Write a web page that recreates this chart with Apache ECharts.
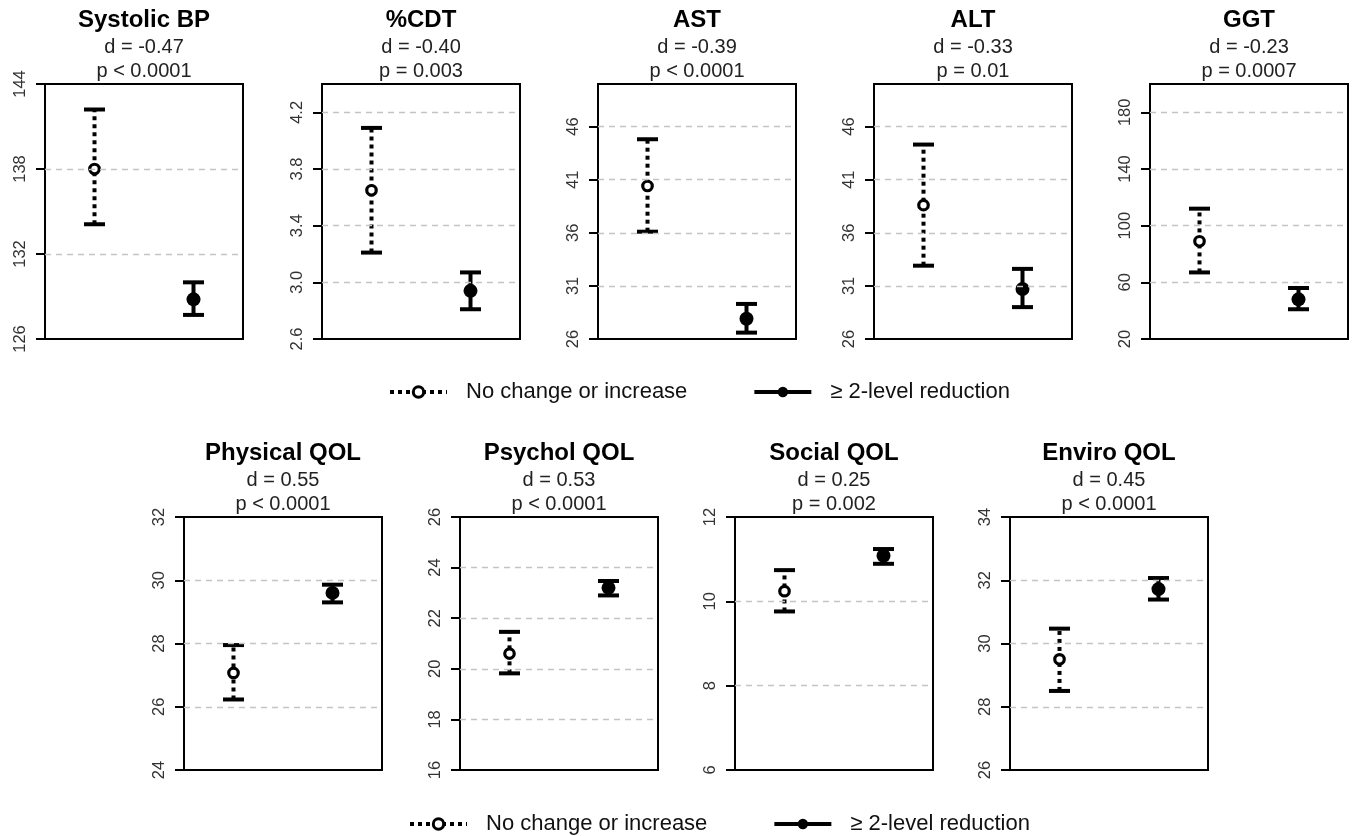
<!DOCTYPE html>
<html>
<head>
<meta charset="utf-8">
<script src="https://cdn.jsdelivr.net/npm/echarts@6/dist/echarts.min.js"></script>
<style>
html, body { margin: 0; padding: 0; background: #fff; }
#chart { width: 1355px; height: 836px; }
</style>
</head>
<body>
<div id="chart"></div>
<script>
// panel labels
var panelNames = ['Systolic BP', '%CDT', 'AST', 'ALT', 'GGT', 'Physical QOL', 'Psychol QOL', 'Social QOL', 'Enviro QOL'];
var dLabels = ['d = -0.47', 'd = -0.40', 'd = -0.39', 'd = -0.33', 'd = -0.23', 'd = 0.55', 'd = 0.53', 'd = 0.25', 'd = 0.45'];
var pLabels = ['p < 0.0001', 'p = 0.003', 'p < 0.0001', 'p = 0.01', 'p = 0.0007', 'p < 0.0001', 'p < 0.0001', 'p = 0.002', 'p < 0.0001'];
var groupNames = ['No change or increase', '\u2265 2-level reduction'];

// group means and interval ends, one value per panel
var noChangeMean = [138.0, 3.65, 40.4, 38.6, 89, 27.07, 20.6, 10.24, 29.5];
var noChangeLow = [134.1, 3.21, 36.1, 32.9, 67, 26.23, 19.82, 9.76, 28.5];
var noChangeHigh = [142.2, 4.09, 44.8, 44.3, 112, 27.95, 21.46, 10.74, 30.47];
var reductionMean = [128.8, 2.94, 27.9, 30.7, 48, 29.6, 23.2, 11.08, 31.72];
var reductionLow = [127.7, 2.81, 26.6, 29.0, 41, 29.3, 22.9, 10.89, 31.39];
var reductionHigh = [130.0, 3.07, 29.3, 32.6, 56, 29.86, 23.47, 11.24, 32.07];

// y axes
var yMin = [126, 2.6, 26, 26, 20, 24, 16, 6, 26];
var yMax = [144, 4.4, 50, 50, 200, 32, 26, 12, 34];
var yTicks = [
	[126, 132, 138, 144],
	[2.6, 3.0, 3.4, 3.8, 4.2],
	[26, 31, 36, 41, 46],
	[26, 31, 36, 41, 46],
	[20, 60, 100, 140, 180],
	[24, 26, 28, 30, 32],
	[16, 18, 20, 22, 24, 26],
	[6, 8, 10, 12],
	[26, 28, 30, 32, 34]
];
var tickDecimals = [0, 1, 0, 0, 0, 0, 0, 0, 0];

// layout (px)
var gridLeft = [45, 322, 598, 874, 1150, 184, 460, 735, 1010];
var gridTop = [84, 84, 84, 84, 84, 517, 517, 517, 517];
var gridHeight = [255, 255, 255, 255, 255, 253, 253, 253, 253];
var gridWidth = 198;

var FONT = "'Liberation Sans', Arial, sans-serif";

function ciRenderer(dotted) {
	return function (params, api) {
		var x = api.value(0);
		var lo = api.coord([x, api.value(1)]);
		var hi = api.coord([x, api.value(2)]);
		var half = 10.5;
		var capStyle = { stroke: '#000', lineWidth: 4 };
		return {
			type: 'group',
			children: [
				{ type: 'line', shape: { x1: lo[0], y1: lo[1], x2: hi[0], y2: hi[1] },
					style: { stroke: '#000', lineWidth: 4, lineDash: dotted ? [4, 4] : null } },
				{ type: 'line', shape: { x1: lo[0] - half, y1: lo[1], x2: lo[0] + half, y2: lo[1] }, style: capStyle },
				{ type: 'line', shape: { x1: hi[0] - half, y1: hi[1], x2: hi[0] + half, y2: hi[1] }, style: capStyle }
			]
		};
	};
}

var grids = [], xAxes = [], yAxes = [], series = [], graphics = [];

for (var i = 0; i < panelNames.length; i++) {
	grids.push({
		left: gridLeft[i], top: gridTop[i], width: gridWidth, height: gridHeight[i],
		show: true, borderColor: '#000', borderWidth: 2, backgroundColor: 'transparent'
	});
	xAxes.push({ type: 'value', gridIndex: i, min: 0.5, max: 2.5, show: false });
	yAxes.push({
		type: 'value', gridIndex: i, min: yMin[i], max: yMax[i],
		axisLine: { show: false },
		splitLine: { show: false },
		axisTick: { show: true, length: 9, customValues: yTicks[i], lineStyle: { color: '#000', width: 2 } },
		axisLabel: {
			show: true, rotate: 90, margin: 16, customValues: yTicks[i],
			color: '#333', fontSize: 16.5, fontFamily: FONT,
			formatter: (function (dec) { return function (v) { return v.toFixed(dec); }; })(tickDecimals[i])
		}
	});

	var inner = yTicks[i].filter(function (v) { return v > yMin[i] && v < yMax[i]; });

	series.push({
		type: 'custom', name: 'ci-a-' + i, xAxisIndex: i, yAxisIndex: i, z: 1,
		renderItem: ciRenderer(true),
		encode: { x: 0, y: [1, 2] },
		data: [[1, noChangeLow[i], noChangeHigh[i]]],
		markLine: {
			silent: true, symbol: 'none', animation: false,
			label: { show: false },
			lineStyle: { color: '#c4c4c4', type: [6, 5], width: 1.3 },
			data: inner.map(function (v) { return { yAxis: v }; })
		}
	});
	series.push({
		type: 'custom', name: 'ci-b-' + i, xAxisIndex: i, yAxisIndex: i, z: 2,
		renderItem: ciRenderer(false),
		encode: { x: 0, y: [1, 2] },
		data: [[2, reductionLow[i], reductionHigh[i]]]
	});
	series.push({
		type: 'line', name: groupNames[0], xAxisIndex: i, yAxisIndex: i, z: 3,
		symbol: 'circle', symbolSize: 9.5,
		itemStyle: { color: '#fff', borderColor: '#000', borderWidth: 3.2 },
		lineStyle: { color: '#000', width: 4, type: [4, 4] },
		data: [[1, noChangeMean[i]]]
	});
	series.push({
		type: 'line', name: groupNames[1], xAxisIndex: i, yAxisIndex: i, z: 3,
		symbol: 'circle', symbolSize: 14,
		itemStyle: { color: '#000' },
		lineStyle: { color: '#000', width: 4 },
		data: [[2, reductionMean[i]]]
	});

	var cx = gridLeft[i] + gridWidth / 2;
	var texts = [
		{ t: panelNames[i], dy: -64, font: 'bold 24px ' + FONT, fill: '#000' },
		{ t: dLabels[i], dy: -37, font: '20px ' + FONT, fill: '#222' },
		{ t: pLabels[i], dy: -12.5, font: '20px ' + FONT, fill: '#222' }
	];
	texts.forEach(function (tx) {
		graphics.push({
			type: 'text', x: cx, y: gridTop[i] + tx.dy, silent: true,
			style: { text: tx.t, font: tx.font, fill: tx.fill,
				textAlign: 'center', align: 'center', textVerticalAlign: 'middle', verticalAlign: 'middle' }
		});
	});
}

function makeLegend(left, top) {
	return {
		left: left, top: top, orient: 'horizontal', selectedMode: false,
		itemWidth: 57, itemHeight: 13, itemGap: 65,
		textStyle: { fontSize: 22, fontFamily: FONT, color: '#111', padding: [0, 0, 0, 14] },
		data: [
			{ name: groupNames[0], lineStyle: { width: 4, type: [4, 4], color: '#000' },
				itemStyle: { color: '#fff', borderColor: '#000', borderWidth: 3 } },
			{ name: groupNames[1], lineStyle: { width: 4, type: 'solid', color: '#000' },
				itemStyle: { color: '#000', borderWidth: 0 } }
		]
	};
}

var chart = echarts.init(document.getElementById('chart'));
chart.setOption({
	backgroundColor: '#fff',
	animation: false,
	grid: grids,
	xAxis: xAxes,
	yAxis: yAxes,
	legend: [makeLegend(383, 376), makeLegend(403, 808)],
	graphic: graphics,
	series: series
});
</script>
</body>
</html>
